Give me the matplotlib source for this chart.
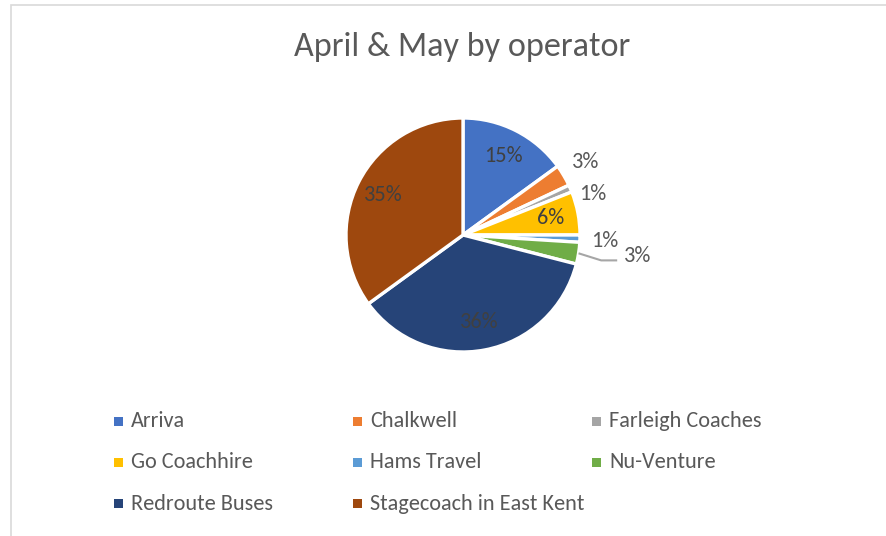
import matplotlib.pyplot as plt
from matplotlib.patches import Rectangle
import numpy as np

# data
operators = ["Arriva", "Chalkwell", "Farleigh Coaches", "Go Coachhire",
             "Hams Travel", "Nu-Venture", "Redroute Buses", "Stagecoach in East Kent"]
shares = [15, 3, 1, 6, 1, 3, 36, 35]
colors = ["#4472C4", "#ED7D31", "#A5A5A5", "#FFC000",
          "#5B9BD5", "#70AD47", "#264478", "#9E480E"]
title = "April & May by operator"

FONT = ["Carlito", "Liberation Sans Narrow", "Open Sans", "DejaVu Sans"]
plt.rcParams["font.family"] = FONT

W, H = 887, 536
fig = plt.figure(figsize=(W / 100, H / 100), dpi=100)
ax = fig.add_axes([0, 0, 1, 1])

cx, cy, R = 463, H - 235, 117
wedges, _ = ax.pie(shares, colors=colors, startangle=90, counterclock=False,
                   center=(cx, cy), radius=R,
                   wedgeprops=dict(edgecolor="white", linewidth=2.4))
ax.set_xlim(0, W)
ax.set_ylim(0, H)
ax.set_aspect("equal")
ax.axis("off")

# chart frame (only top and left edges visible in the crop)
ax.add_patch(Rectangle((11.5, -20), W + 40, H - 4.5 + 20, fill=False,
                       edgecolor="#D9D9D9", linewidth=1.2))

ax.text(W / 2 + 19, H - 47, title, ha="center", va="center",
        fontsize=24.6, color="#595959")

LBL = 16
# label placement: inside labels at fixed fraction, small slices outside
outside = {1: (0, 1.22), 2: (-6, 1.16), 4: (-0.5, 1.21), 5: (2, 1.5)}
for i, w in enumerate(wedges):
    mid = np.deg2rad((w.theta1 + w.theta2) / 2)
    txt = f"{shares[i]}%"
    if i in outside:
        dang, r = outside[i]
        a = mid + np.deg2rad(dang)
        x, y = cx + r * R * np.cos(a), cy + r * R * np.sin(a)
        ax.text(x, y, txt, ha="center", va="center", fontsize=LBL, color="#595959")
        if i == 5:
            x0, y0 = cx + R * np.cos(mid), cy + R * np.sin(mid)
            ax.plot([x0, x - 36, x - 20], [y0, y - 4, y - 4],
                    color="#A6A6A6", linewidth=1.5, solid_capstyle="butt")
    else:
        r = 0.76
        x, y = cx + r * R * np.cos(mid), cy + r * R * np.sin(mid)
        ax.text(x, y, txt, ha="center", va="center", fontsize=LBL, color="#404040")

# legend: three equal-width columns
lx0, ldx, ly0, ldy = 119, 239, H - 421, 41.5
for i, (name, c) in enumerate(zip(operators, colors)):
    col, row = i % 3, i // 3
    x, y = lx0 + col * ldx, ly0 - row * ldy
    ax.add_patch(Rectangle((x - 4.5, y - 4.5), 9, 9, facecolor=c, edgecolor="none"))
    ax.text(x + 12, y, name, ha="left", va="center", fontsize=16, color="#595959")

fig.savefig("out.png", dpi=100)
